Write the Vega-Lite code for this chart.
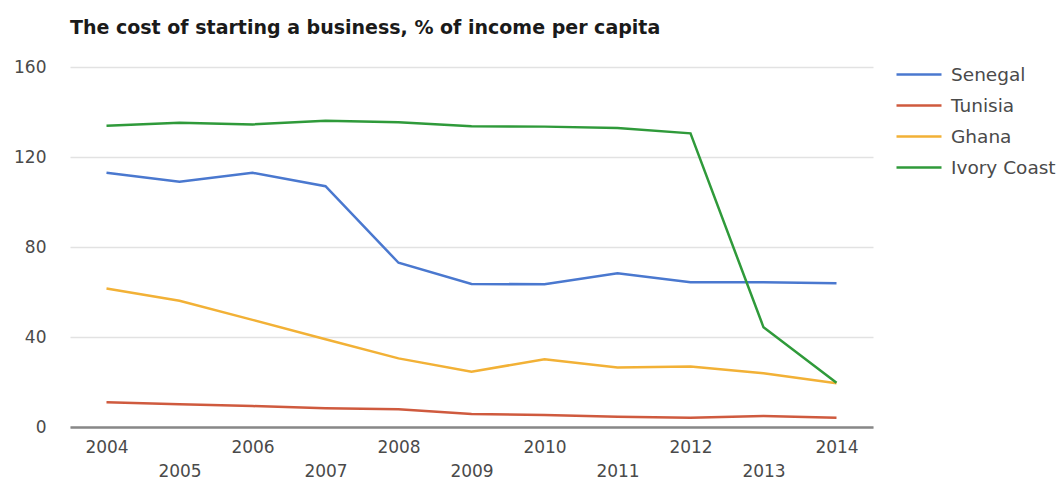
{
  "$schema": "https://vega.github.io/schema/vega-lite/v6.json",
  "width": 803,
  "height": 360,
  "autosize": {"type": "none"},
  "padding": {"left": 70, "top": 67, "right": 190, "bottom": 56},
  "background": "white",
  "title": {
    "text": "The cost of starting a business, % of income per capita",
    "anchor": "start",
    "frame": "group",
    "font": "DejaVu Sans",
    "fontSize": 19,
    "fontWeight": "bold",
    "color": "#1a1a1a",
    "offset": 20
  },
  "data": {
    "values": [
      {"year": 2004, "country": "Senegal", "value": 113},
      {"year": 2005, "country": "Senegal", "value": 109},
      {"year": 2006, "country": "Senegal", "value": 113},
      {"year": 2007, "country": "Senegal", "value": 107},
      {"year": 2008, "country": "Senegal", "value": 73},
      {"year": 2009, "country": "Senegal", "value": 63.6},
      {"year": 2010, "country": "Senegal", "value": 63.4},
      {"year": 2011, "country": "Senegal", "value": 68.3},
      {"year": 2012, "country": "Senegal", "value": 64.3},
      {"year": 2013, "country": "Senegal", "value": 64.3},
      {"year": 2014, "country": "Senegal", "value": 63.9},
      {"year": 2004, "country": "Tunisia", "value": 11},
      {"year": 2005, "country": "Tunisia", "value": 10.1},
      {"year": 2006, "country": "Tunisia", "value": 9.3},
      {"year": 2007, "country": "Tunisia", "value": 8.3},
      {"year": 2008, "country": "Tunisia", "value": 7.9},
      {"year": 2009, "country": "Tunisia", "value": 5.8},
      {"year": 2010, "country": "Tunisia", "value": 5.3},
      {"year": 2011, "country": "Tunisia", "value": 4.6},
      {"year": 2012, "country": "Tunisia", "value": 4.1},
      {"year": 2013, "country": "Tunisia", "value": 4.9},
      {"year": 2014, "country": "Tunisia", "value": 4.1},
      {"year": 2004, "country": "Ghana", "value": 61.6},
      {"year": 2005, "country": "Ghana", "value": 56.1},
      {"year": 2006, "country": "Ghana", "value": 47.6},
      {"year": 2007, "country": "Ghana", "value": 39},
      {"year": 2008, "country": "Ghana", "value": 30.5},
      {"year": 2009, "country": "Ghana", "value": 24.6},
      {"year": 2010, "country": "Ghana", "value": 30.1},
      {"year": 2011, "country": "Ghana", "value": 26.5},
      {"year": 2012, "country": "Ghana", "value": 26.9},
      {"year": 2013, "country": "Ghana", "value": 23.9},
      {"year": 2014, "country": "Ghana", "value": 19.4},
      {"year": 2004, "country": "Ivory Coast", "value": 133.9},
      {"year": 2005, "country": "Ivory Coast", "value": 135.2},
      {"year": 2006, "country": "Ivory Coast", "value": 134.5},
      {"year": 2007, "country": "Ivory Coast", "value": 136.1},
      {"year": 2008, "country": "Ivory Coast", "value": 135.4},
      {"year": 2009, "country": "Ivory Coast", "value": 133.7},
      {"year": 2010, "country": "Ivory Coast", "value": 133.5},
      {"year": 2011, "country": "Ivory Coast", "value": 132.9},
      {"year": 2012, "country": "Ivory Coast", "value": 130.5},
      {"year": 2013, "country": "Ivory Coast", "value": 44.3},
      {"year": 2014, "country": "Ivory Coast", "value": 19.7}
    ]
  },
  "mark": {"type": "line", "strokeWidth": 2.5},
  "encoding": {
    "x": {
      "field": "year",
      "type": "quantitative",
      "scale": {"domain": [2003.5, 2014.5], "nice": false, "zero": false},
      "axis": {
        "title": null,
        "values": [2004, 2005, 2006, 2007, 2008, 2009, 2010, 2011, 2012, 2013, 2014],
        "format": "d",
        "labelExpr": "datum.value % 2 == 1 ? ['', datum.label] : datum.label",
        "labelLineHeight": 24,
        "labelOverlap": false,
        "labelPadding": 12,
        "labelFont": "DejaVu Sans",
        "labelFontSize": 17,
        "labelColor": "#4a4a4a",
        "domainColor": "#888888",
        "domainWidth": 2.5,
        "ticks": false,
        "grid": false
      }
    },
    "y": {
      "field": "value",
      "type": "quantitative",
      "scale": {"domain": [0, 160], "nice": false},
      "axis": {
        "title": null,
        "values": [0, 40, 80, 120, 160],
        "grid": true,
        "gridColor": "#e2e2e2",
        "gridWidth": 1.5,
        "domain": false,
        "ticks": false,
        "labelPadding": 24,
        "labelFont": "DejaVu Sans",
        "labelFontSize": 17,
        "labelColor": "#4a4a4a"
      }
    },
    "color": {
      "field": "country",
      "type": "nominal",
      "scale": {
        "domain": ["Senegal", "Tunisia", "Ghana", "Ivory Coast"],
        "range": ["#4a78cf", "#cf5a3e", "#f2b136", "#2f9a3a"]
      },
      "legend": {
        "title": null,
        "orient": "none",
        "legendX": 832.5,
        "legendY": -9,
        "symbolType": "M-1.5,0H1.5",
        "symbolSize": 900,
        "symbolStrokeWidth": 2.5,
        "labelFont": "DejaVu Sans",
        "labelFontSize": 18.5,
        "labelColor": "#4a4a4a",
        "labelOffset": 15.5,
        "rowPadding": 5
      }
    }
  },
  "config": {"view": {"stroke": null}}
}
